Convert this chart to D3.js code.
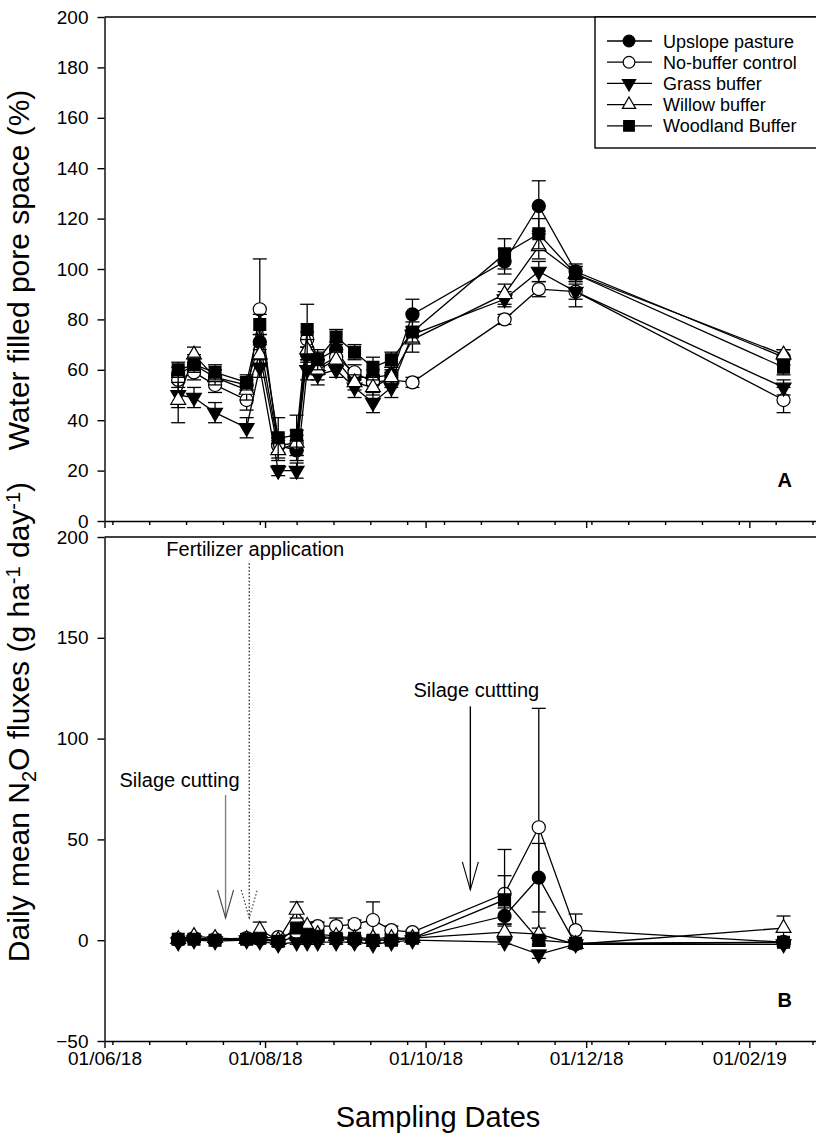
<!DOCTYPE html>
<html>
<head>
<meta charset="utf-8">
<script src="https://cdn.jsdelivr.net/npm/d3@7"></script>
<style>
  body { margin: 0; background: #fff; }
  svg { display: block; }
  text { font-family: "Liberation Sans", Arial, sans-serif; fill: #000; }
</style>
</head>
<body>
<svg id="chart" width="816" height="1133"></svg>
<script>
// sampling dates (dd/mm/yy on the axis)
const sampleDates = [
  "2018-06-29", "2018-07-05", "2018-07-13", "2018-07-25", "2018-07-30",
  "2018-08-06", "2018-08-13", "2018-08-17", "2018-08-21", "2018-08-28",
  "2018-09-04", "2018-09-11", "2018-09-18", "2018-09-26", "2018-10-31",
  "2018-11-13", "2018-11-27", "2019-02-14"
];

const seriesNames = ["Upslope pasture", "No-buffer control", "Grass buffer", "Willow buffer", "Woodland Buffer"];

// panel A: water filled pore space (%)
const wfpsUpslope  = [58, 62, 57, 54, 71, 30, 28, 66, 64, 68, 57, 57, 58, 82, 103, 125, 99, 65];
const wfpsNoBuffer = [56, 59, 54, 48, 84, 30, 31, 72, 61, 65, 59, 55, 56, 55, 80, 92, 91, 48];
const wfpsGrass    = [50, 49, 43, 37, 61, 20, 20, 60, 58, 60, 53, 47, 53, 74, 88, 99, 91, 53];
const wfpsWillow   = [48, 66, 57, 52, 66, 28, 31, 68, 60, 64, 55, 53, 57, 72, 90, 109, 98, 66];
const wfpsWoodland = [60, 62, 59, 55, 78, 33, 34, 76, 64, 73, 67, 61, 64, 75, 106, 114, 98, 61];

const wfpsUpslopeSe  = [3, 4, 3, 3, 3, 3, 4, 3, 3, 3, 3, 3, 3, 6, 5, 10, 3, 3];
const wfpsNoBufferSe = [3, 3, 3, 4, 20, 3, 3, 3, 3, 3, 3, 3, 3, 2, 2, 3, 3, 5];
const wfpsGrassSe    = [5, 4, 4, 4, 4, 2, 3, 4, 4, 3, 4, 4, 4, 3, 3, 4, 6, 3];
const wfpsWillowSe   = [9, 3, 3, 4, 4, 4, 5, 4, 4, 3, 3, 3, 3, 5, 4, 5, 3, 2];
const wfpsWoodlandSe = [3, 3, 3, 3, 4, 8, 8, 10, 4, 3, 3, 4, 3, 4, 6, 6, 3, 3];

// panel B: daily mean N2O fluxes (g ha-1 day-1)
const n2oUpslope  = [0, 1, 0, 0.5, 0.5, -1, 2, 1, 1, 1, 0, 0, 0, 1, 12, 31, -2, -1];
const n2oNoBuffer = [0.5, 1, 0.5, 1, 1, 1.5, 4, 5, 7, 7, 8, 10, 5, 4, 23, 56, 5, -1];
const n2oGrass    = [-1, 0, -0.5, 0, -0.5, -2, -1, -1, -1, -1, -1, -2, -1, 0, -1, -7, -2, -2];
const n2oWillow   = [0.5, 2, 1, 0.5, 5, 0, 15, 7, 3, 2, 1, 1, 1, 1, 4, 3, -2, 6];
const n2oWoodland = [0.5, 0.5, 0, 0.5, 1, -0.5, 6, 3, 2, 1, 1, 0, 0, 1, 20, 0, -1.5, -1];

const n2oUpslopeSe  = [1, 1, 1, 1, 1, 1, 2, 1, 1, 1, 1, 1, 1, 1, 4, 17, 1, 1];
const n2oNoBufferSe = [1, 1, 1, 1, 1, 1, 1, 2, 2, 4, 2, 9, 2, 1, 22, 59, 8, 1];
const n2oGrassSe    = [1, 1, 1, 1, 1, 1, 1, 1, 1, 1, 1, 1, 1, 1, 1, 2, 1, 1];
const n2oWillowSe   = [1, 1, 1, 1, 4, 1, 4, 2, 1, 1, 1, 1, 1, 1, 3, 3, 1, 6];
const n2oWoodlandSe = [1, 1, 1, 1, 1, 1, 2, 1, 1, 1, 1, 1, 1, 1, 12, 2, 1, 1];

const wfpsTicks = [0, 20, 40, 60, 80, 100, 120, 140, 160, 180, 200];
const n2oTicks = [-50, 0, 50, 100, 150, 200];
const majorDates = ["2018-06-01", "2018-08-01", "2018-10-01", "2018-12-01", "2019-02-01"];

// annotations on panel B
const eventDates = ["2018-07-17", "2018-07-26", "2018-10-18"];
const eventLabels = ["Silage cutting", "Fertilizer application", "Silage cuttting"];

const parse = d3.timeParse("%Y-%m-%d");
const fmt = d3.timeFormat("%d/%m/%y");
const dates = sampleDates.map(parse);

const svg = d3.select("#chart");

const left = 104.5;
const x = d3.scaleTime()
  .domain([parse("2018-06-01"), parse("2019-02-28")])
  .range([left, 820.4]);

const yTop = d3.scaleLinear().domain([0, 200]).range([521, 17]);
const yBot = d3.scaleLinear().domain([-50, 200]).range([1041, 537]);

// minor ticks every two weeks
const minorDates = d3.timeDay.range(parse("2018-06-04"), parse("2019-03-01"), 14);

const styles = [
  { type: d3.symbolCircle, fill: "#000", size: 135, rot: 0 },
  { type: d3.symbolCircle, fill: "#fff", size: 135, rot: 0 },
  { type: d3.symbolTriangle, fill: "#000", size: 95, rot: 180 },
  { type: d3.symbolTriangle, fill: "#fff", size: 95, rot: 0 },
  { type: d3.symbolSquare, fill: "#000", size: 140, rot: 0 },
];

const drawFrame = (yScale, ticks, withLabels) => {
  const y0 = yScale.range()[0];
  const y1 = yScale.range()[1];

  const yAxis = svg.append("g")
    .attr("transform", `translate(${left},0)`)
    .call(d3.axisLeft(yScale).tickValues(ticks).tickSize(7).tickSizeOuter(0).tickPadding(9));
  yAxis.selectAll("text").attr("font-size", "19px").attr("font-family", null);
  yAxis.selectAll("path, line").attr("stroke-width", 1.4);

  const minor = svg.append("g")
    .attr("transform", `translate(0,${y0})`)
    .call(d3.axisBottom(x).tickValues(minorDates).tickSize(4).tickSizeOuter(0).tickFormat(""));
  minor.selectAll("path, line").attr("stroke-width", 1.4);

  const major = svg.append("g")
    .attr("transform", `translate(0,${y0})`)
    .call(d3.axisBottom(x).tickValues(majorDates.map(parse)).tickSize(7).tickSizeOuter(0)
      .tickPadding(4).tickFormat(withLabels ? fmt : ""));
  major.select(".domain").remove();
  major.selectAll("line").attr("stroke-width", 1.4);
  major.selectAll("text").attr("font-size", "19px").attr("font-family", null);

  svg.append("line")
    .attr("x1", left).attr("x2", 816)
    .attr("y1", y1).attr("y2", y1)
    .attr("stroke", "#000").attr("stroke-width", 1.4);
};

const drawSeries = (yScale, values, errors) => {
  values.forEach((vals, s) => {
    const st = styles[s];
    const g = svg.append("g");
    const pts = vals.map((v, i) => ({ d: dates[i], v, e: errors[s][i] }));

    const bars = g.selectAll(".err").data(pts).join("g").attr("class", "err")
      .attr("stroke", "#000").attr("stroke-width", 1.3);
    bars.append("line")
      .attr("x1", (d) => x(d.d)).attr("x2", (d) => x(d.d))
      .attr("y1", (d) => yScale(d.v - d.e)).attr("y2", (d) => yScale(d.v + d.e));
    [-1, 1].forEach((sgn) => {
      bars.append("line")
        .attr("x1", (d) => x(d.d) - 7).attr("x2", (d) => x(d.d) + 7)
        .attr("y1", (d) => yScale(d.v + sgn * d.e)).attr("y2", (d) => yScale(d.v + sgn * d.e));
    });

    g.append("path")
      .datum(pts)
      .attr("fill", "none")
      .attr("stroke", "#000")
      .attr("stroke-width", 1.3)
      .attr("d", d3.line().x((d) => x(d.d)).y((d) => yScale(d.v)));

    g.selectAll(".pt").data(pts).join("path").attr("class", "pt")
      .attr("d", d3.symbol().type(st.type).size(st.size))
      .attr("transform", (d) => `translate(${x(d.d)},${yScale(d.v)}) rotate(${st.rot})`)
      .attr("fill", st.fill)
      .attr("stroke", "#000")
      .attr("stroke-width", 1.2);
  });
};

// panel A
drawFrame(yTop, wfpsTicks, false);
drawSeries(yTop,
  [wfpsUpslope, wfpsNoBuffer, wfpsGrass, wfpsWillow, wfpsWoodland],
  [wfpsUpslopeSe, wfpsNoBufferSe, wfpsGrassSe, wfpsWillowSe, wfpsWoodlandSe]);

// panel B
drawFrame(yBot, n2oTicks, true);
drawSeries(yBot,
  [n2oUpslope, n2oNoBuffer, n2oGrass, n2oWillow, n2oWoodland],
  [n2oUpslopeSe, n2oNoBufferSe, n2oGrassSe, n2oWillowSe, n2oWoodlandSe]);

// legend
const legend = svg.append("g");
legend.append("rect")
  .attr("x", 595).attr("y", 17).attr("width", 240).attr("height", 131)
  .attr("fill", "#fff").attr("stroke", "#000").attr("stroke-width", 1.4);
seriesNames.forEach((name, i) => {
  const st = styles[i];
  const row = legend.append("g").attr("transform", `translate(0,${41 + i * 21.2})`);
  row.append("line").attr("x1", 607).attr("x2", 652).attr("stroke", "#000").attr("stroke-width", 1.3);
  row.append("path")
    .attr("d", d3.symbol().type(st.type).size(st.size * 0.8))
    .attr("transform", `translate(629,0) rotate(${st.rot})`)
    .attr("fill", st.fill).attr("stroke", "#000").attr("stroke-width", 1.2);
  row.append("text").attr("x", 663).attr("y", 6.5).attr("font-size", "18px").text(name);
});

// panel letters
svg.append("text").attr("x", 792).attr("y", 487).attr("text-anchor", "end")
  .attr("font-size", "20px").attr("font-weight", "bold").text("A");
svg.append("text").attr("x", 792).attr("y", 1007).attr("text-anchor", "end")
  .attr("font-size", "20px").attr("font-weight", "bold").text("B");

// event arrows (start / tip in flux units)
const arrowTop = [72, 187, 116];
const arrowTip = [11, 11, 25];
const labelAt = [76, 190.5, 120.5];
const arrowStyle = [
  { stroke: "#808080", dash: null, head: "#444" },
  { stroke: "#333", dash: "1.5,2", head: "#333" },
  { stroke: "#000", dash: null, head: "#000" },
];
eventDates.forEach((d, i) => {
  const ax = x(parse(d));
  const st = arrowStyle[i];
  const tip = yBot(arrowTip[i]);
  svg.append("line")
    .attr("x1", ax).attr("x2", ax)
    .attr("y1", yBot(arrowTop[i])).attr("y2", tip)
    .attr("stroke", st.stroke).attr("stroke-width", 1.4)
    .attr("stroke-dasharray", st.dash);
  svg.append("path")
    .attr("d", `M${ax - 8},${tip - 28}L${ax},${tip}L${ax + 8},${tip - 28}`)
    .attr("fill", "none").attr("stroke", st.head).attr("stroke-width", 1.1)
    .attr("stroke-dasharray", st.dash);
  svg.append("text")
    .attr("x", i === 0 ? ax - 46 : ax + 6).attr("y", yBot(labelAt[i]))
    .attr("text-anchor", "middle").attr("font-size", "20px")
    .text(eventLabels[i]);
});

// axis titles
svg.append("text")
  .attr("transform", "translate(29,270) rotate(-90)")
  .attr("text-anchor", "middle").attr("font-size", "30px")
  .text("Water filled pore space (%)");

const yt = svg.append("text")
  .attr("transform", "translate(29,722) rotate(-90)")
  .attr("text-anchor", "middle").attr("font-size", "30px");
yt.append("tspan").text("Daily mean N");
yt.append("tspan").attr("font-size", "20px").attr("dy", 7).text("2");
yt.append("tspan").attr("dy", -7).text("O fluxes (g ha");
yt.append("tspan").attr("font-size", "20px").attr("dy", -9).text("-1");
yt.append("tspan").attr("dy", 9).text(" day");
yt.append("tspan").attr("font-size", "20px").attr("dy", -9).text("-1");
yt.append("tspan").attr("dy", 9).text(")");

svg.append("text")
  .attr("x", 438).attr("y", 1127)
  .attr("text-anchor", "middle").attr("font-size", "29px")
  .text("Sampling Dates");
</script>
</body>
</html>
